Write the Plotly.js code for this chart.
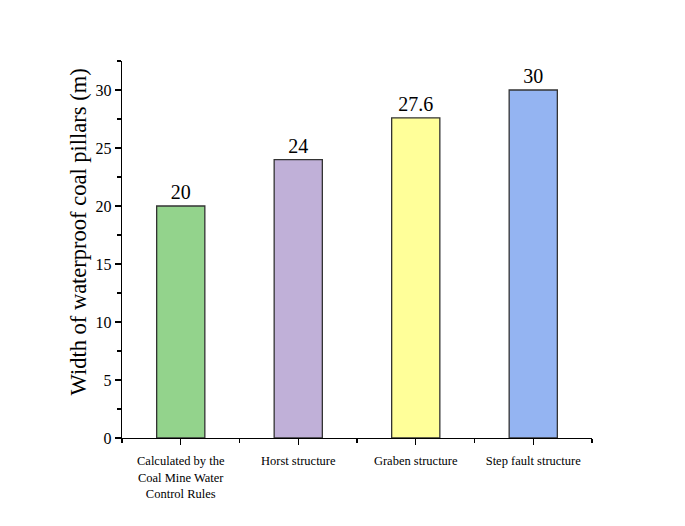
<!DOCTYPE html>
<html>
<head>
<meta charset="utf-8">
<script src="https://cdn.plot.ly/plotly-3.0.1.min.js"></script>
<style>html,body{margin:0;padding:0;background:#fff;}</style>
</head>
<body>
<div id="chart" style="width:685px;height:526px;"></div>
<script>
const categories = ["Calculated by the<br>Coal Mine Water<br>Control Rules", "Horst structure", "Graben structure", "Step fault structure"];
const widths = [20, 24, 27.6, 30];
const labels = ["20", "24", "27.6", "30"];
const barColors = ["#93d38c", "#c0b0d8", "#ffff99", "#94b4f2"];
const yTitle = "Width of waterproof coal pillars (m)";

const trace = {
  type: "bar",
  x: [0, 1, 2, 3],
  y: widths,
  width: 0.41,
  text: labels,
  textposition: "outside",
  textfont: {family: "Liberation Serif, Times New Roman, serif", size: 20, color: "#000"},
  cliponaxis: false,
  marker: {color: barColors, line: {color: "#333", width: 1.3}},
  hoverinfo: "none"
};

const layout = {
  width: 685, height: 526,
  margin: {l: 122, r: 93, t: 61, b: 88},
  paper_bgcolor: "#fff", plot_bgcolor: "#fff",
  showlegend: false,
  font: {family: "Liberation Serif, Times New Roman, serif", color: "#000"},
  xaxis: {
    range: [-0.5, 3.5],
    tickvals: [0, 1, 2, 3],
    ticktext: categories,
    tickfont: {size: 12.5},
    ticklabelstandoff: 5,
    ticks: "outside", ticklen: 6, tickwidth: 1.3, tickcolor: "#000",
    minor: {tickvals: [-0.5, 0.5, 1.5, 2.5, 3.5], ticks: "outside", ticklen: 4, tickwidth: 1.3, tickcolor: "#000"},
    showline: true, linecolor: "#000", linewidth: 1.3,
    showgrid: false, zeroline: false, fixedrange: true
  },
  yaxis: {
    range: [0, 32.5],
    tickvals: [0, 5, 10, 15, 20, 25, 30],
    tickfont: {size: 16},
    ticks: "outside", ticklen: 6, tickwidth: 1.3, tickcolor: "#000",
    minor: {dtick: 2.5, tick0: 0, ticks: "outside", ticklen: 4, tickwidth: 1.3, tickcolor: "#000"},
    showline: true, linecolor: "#000", linewidth: 1.3,
    showgrid: false, zeroline: false, fixedrange: true
  },
  annotations: [{
    text: yTitle, textangle: -90,
    xref: "paper", yref: "paper",
    x: -0.093, y: 0.546, xanchor: "center", yanchor: "middle",
    showarrow: false,
    font: {size: 22.5, family: "Liberation Serif, Times New Roman, serif", color: "#000"}
  }]
};

Plotly.newPlot("chart", [trace], layout, {displayModeBar: false, staticPlot: true});
</script>
</body>
</html>
